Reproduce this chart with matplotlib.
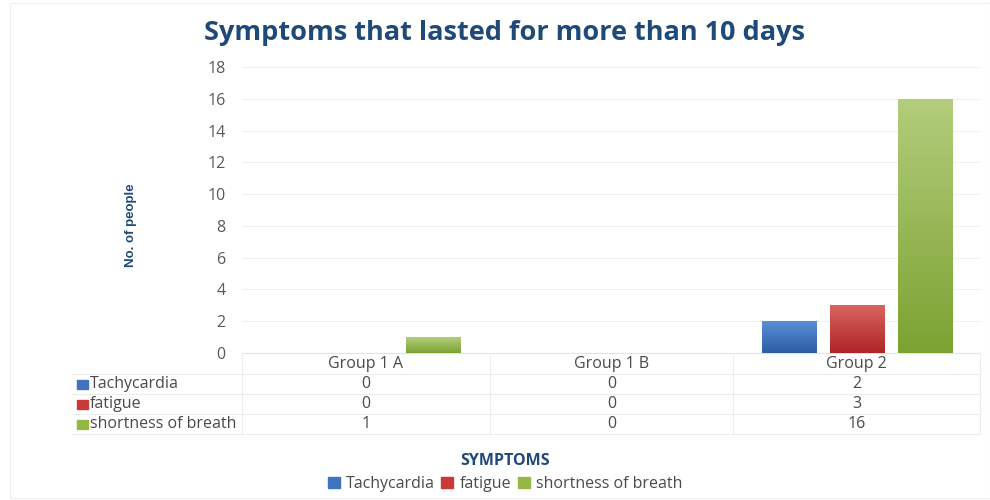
import numpy as np
import matplotlib.pyplot as plt
from matplotlib.colors import LinearSegmentedColormap

# data
groups = ['Group 1 A', 'Group 1 B', 'Group 2']
series = ['Tachycardia', 'fatigue', 'shortness of breath']
tachycardia = [0, 0, 2]
fatigue = [0, 0, 3]
breath = [1, 0, 16]
values = [tachycardia, fatigue, breath]

colors = ['#3F75BF', '#C83A37', '#93B844']
grad = [('#5A8FD6', '#2C5EA4'), ('#D96560', '#AE2424'), ('#B3CD7C', '#7CA232')]

W, H = 990, 500
fig = plt.figure(figsize=(W / 100, H / 100), dpi=100)
fig.patch.set_facecolor('white')
plt.rcParams['font.family'] = ['Open Sans', 'DejaVu Sans']
fs = 11.5
txt = '#4A4A4A'

x0, x1, ytop, ybot = 242, 980, 67, 353
ax = fig.add_axes([x0 / W, 1 - ybot / H, (x1 - x0) / W, (ybot - ytop) / H])

x = np.arange(len(groups))
bw = 0.22
offs = [-0.275, 0, 0.275]
for i, vals in enumerate(values):
    bars = ax.bar(x + offs[i], vals, width=bw, color=colors[i], zorder=2)
    cmap = LinearSegmentedColormap.from_list('g%d' % i, [grad[i][1], grad[i][0]])
    for b in bars:
        if b.get_height() <= 0:
            continue
        im = ax.imshow(np.linspace(0, 1, 100).reshape(-1, 1), cmap=cmap, origin='lower',
                       extent=[b.get_x(), b.get_x() + b.get_width(), 0, b.get_height()],
                       aspect='auto', zorder=3)
        im.set_clip_path(b)

ax.set_xlim(-0.5, 2.5)
ax.set_ylim(0, 18)
ax.set_yticks(range(0, 19, 2))
ax.set_xticks([])
ax.tick_params(axis='y', length=0, labelsize=fs, labelcolor='#595959', pad=12)
ax.grid(axis='y', color='#F0F0F0', lw=0.8, zorder=0)
for s in ['top', 'right', 'left']:
    ax.spines[s].set_visible(False)
ax.spines['bottom'].set_color('#E3E3E3')

# data table
cols = [242, 490, 733, 980]
rows_y = [364, 384, 404, 424]
line_col = '#EDEDED'
for yy in [374, 394, 414, 434]:
    fig.add_artist(plt.Line2D([72 / W, 980 / W], [1 - yy / H] * 2, color=line_col, lw=0.8))
for xx in cols:
    fig.add_artist(plt.Line2D([xx / W] * 2, [1 - 353 / H, 1 - 434 / H], color=line_col, lw=0.8))
for j, g in enumerate(groups):
    cx = (cols[j] + cols[j + 1]) / 2
    fig.text(cx / W, 1 - rows_y[0] / H, g, ha='center', va='center', fontsize=fs, color=txt)
for i, s in enumerate(series):
    yy = 1 - rows_y[i + 1] / H
    fig.patches.append(plt.Rectangle((77 / W, yy - 4.5 / H), 11 / W, 9 / H, color=colors[i],
                                     transform=fig.transFigure, figure=fig))
    fig.text(90 / W, yy, s, ha='left', va='center', fontsize=fs, color=txt)
    for j in range(len(groups)):
        cx = (cols[j] + cols[j + 1]) / 2
        fig.text(cx / W, yy, str(values[i][j]), ha='center', va='center', fontsize=fs, color=txt)

# titles
navy = '#1F4A78'
fig.text(505 / W, 1 - 33 / H, 'Symptoms that lasted for more than 10 days', ha='center', va='center',
         fontsize=19.5, fontweight='bold', color=navy)
fig.text(131 / W, 1 - 225 / H, 'No. of people', ha='center', va='center', rotation=90,
         fontsize=9.5, fontweight='bold', color=navy,
         family=['Liberation Sans Narrow', 'Liberation Sans'])
fig.text(505 / W, 1 - 461 / H, 'SYMPTOMS', ha='center', va='center', fontsize=fs,
         fontweight='bold', color=navy)

# legend
handles = [plt.Rectangle((0, 0), 1, 1, color=c) for c in colors]
fig.legend(handles, series, loc='center', bbox_to_anchor=(505 / W, 1 - 484 / H), ncol=3,
           frameon=False, fontsize=fs, handlelength=0.75, handleheight=0.75, handletextpad=0.4,
           columnspacing=0.4, labelcolor=txt)

fig.add_artist(plt.Rectangle((10 / W, 0.005), 980 / W, 0.99, fill=False, ec='#EEEEEE', lw=0.8,
                             transform=fig.transFigure))

plt.savefig('out.png', dpi=100)
